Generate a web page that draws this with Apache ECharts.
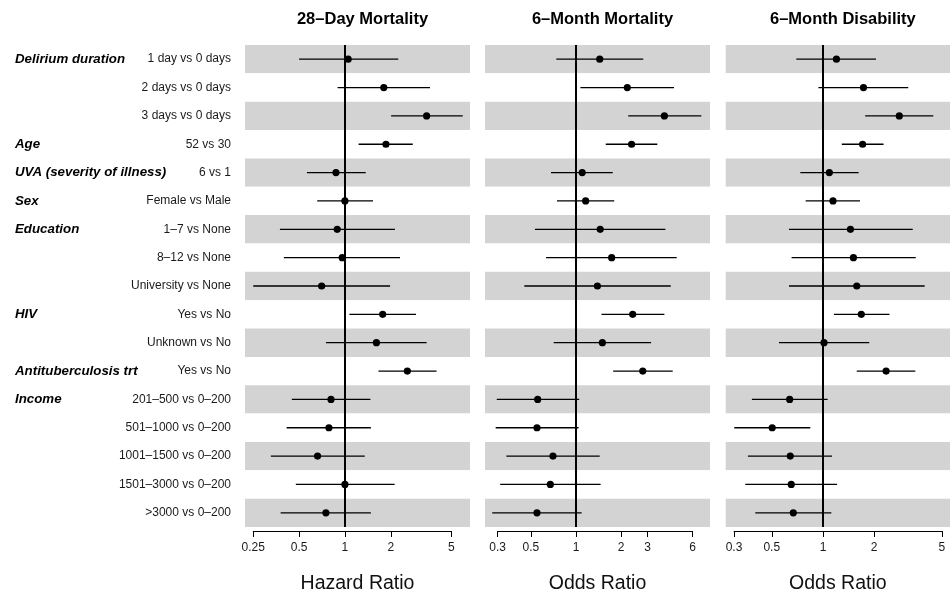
<!DOCTYPE html>
<html><head><meta charset="utf-8">
<script src="https://cdn.jsdelivr.net/npm/echarts@6/dist/echarts.min.js"></script>
<style>html,body{margin:0;padding:0;background:#fff}#c{width:951px;height:594px}</style>
</head><body><div id="c"></div>
<script>
// ---- data ----
const groupLabels = ['Delirium duration','','','Age','UVA (severity of illness)','Sex','Education','','','HIV','','Antituberculosis trt','Income','','','',''];
const rowLabels = ['1 day vs 0 days','2 days vs 0 days','3 days vs 0 days','52 vs 30','6 vs 1','Female vs Male','1\u20137 vs None','8\u201312 vs None','University vs None','Yes vs No','Unknown vs No','Yes vs No','201\u2013500 vs 0\u2013200','501\u20131000 vs 0\u2013200','1001\u20131500 vs 0\u2013200','1501\u20133000 vs 0\u2013200','>3000 vs 0\u2013200'];

const panelTitles = ['28\u2013Day Mortality','6\u2013Month Mortality','6\u2013Month Disability'];
const axisNames = ['Hazard Ratio','Odds Ratio','Odds Ratio'];

const ticks28 = [0.25,0.5,1,2,5];
const ticks6m = [0.3,0.5,1,2,3,6];
const ticks6d = [0.3,0.5,1,2,5];

const range28 = [0.2206, 6.63];
const range6m = [0.247, 7.84];
const range6d = [0.268, 5.58];

const est28 = [1.05,1.80,3.44,1.86,0.873,1.00,0.89,0.96,0.703,1.77,1.61,2.57,0.81,0.785,0.661,1.00,0.75];
const lo28  = [0.50,0.895,2.01,1.23,0.563,0.658,0.374,0.397,0.25,1.07,0.75,1.66,0.448,0.414,0.326,0.476,0.378];
const hi28  = [2.24,3.62,5.94,2.79,1.37,1.53,2.13,2.30,1.98,2.93,3.44,4.00,1.47,1.48,1.35,2.12,1.48];

const est6m = [1.44,2.20,3.89,2.35,1.10,1.16,1.45,1.73,1.39,2.39,1.50,2.79,0.555,0.549,0.702,0.674,0.549];
const lo6m  = [0.739,1.07,2.23,1.58,0.681,0.747,0.532,0.631,0.452,1.48,0.71,1.77,0.296,0.291,0.343,0.312,0.276];
const hi6m  = [2.81,4.51,6.86,3.49,1.76,1.80,3.95,4.70,4.29,3.89,3.17,4.42,1.05,1.04,1.44,1.46,1.09];

const est6d = [1.20,1.73,2.81,1.71,1.09,1.145,1.45,1.51,1.58,1.68,1.014,2.35,0.637,0.503,0.642,0.651,0.669];
const lo6d  = [0.697,0.94,1.77,1.29,0.736,0.791,0.631,0.654,0.631,1.16,0.551,1.58,0.382,0.301,0.362,0.349,0.40];
const hi6d  = [2.05,3.17,4.45,2.27,1.62,1.65,3.37,3.51,3.96,2.46,1.87,3.49,1.065,0.842,1.13,1.21,1.12];

// ---- build ----
const FONT = 'Liberation Sans, Arial, Helvetica, sans-serif';
const L2 = Math.log2;
const panels = [
  {est: est28, lo: lo28, hi: hi28, ticks: ticks28, range: range28, left: 245, width: 225},
  {est: est6m, lo: lo6m, hi: hi6m, ticks: ticks6m, range: range6m, left: 485, width: 225},
  {est: est6d, lo: lo6d, hi: hi6d, ticks: ticks6d, range: range6d, left: 725.7, width: 224.3}
];
const TOP = 45, HEIGHT = 482, AXIS_Y = 531;
const cats = rowLabels.map((_, i) => String(i));

const grid = [], xAxis = [], yAxis = [], series = [], title = [];

panels.forEach((p, k) => {
  const minL = L2(p.range[0]), maxL = L2(p.range[1]);
  grid.push({left: p.left, top: TOP, width: p.width, height: HEIGHT, outerBoundsMode: 'none', containLabel: false});
  xAxis.push({
    type: 'value', gridIndex: k, min: minL, max: maxL,
    axisLine: {show: false}, axisTick: {show: false}, axisLabel: {show: false}, splitLine: {show: false},
    name: axisNames[k], nameLocation: 'middle', nameGap: 47,
    nameTextStyle: {fontSize: 19.5, color: '#111', fontFamily: FONT}
  });
  yAxis.push({
    type: 'category', gridIndex: k, data: cats, inverse: true,
    axisLine: {show: false, onZero: false}, axisTick: {show: false},
    axisLabel: {show: k === 0, interval: 0, margin: 14, fontSize: 12, color: '#1a1a1a', fontFamily: FONT,
      formatter: (v, i) => rowLabels[i]},
    splitLine: {show: false},
    splitArea: {show: true, interval: 0, areaStyle: {color: ['#d3d3d3', '#ffffff']}}
  });
  title.push({
    text: panelTitles[k], left: p.left + p.width / 2, top: 6, textAlign: 'center',
    textStyle: {fontSize: 16.5, fontWeight: 'bold', color: '#000', fontFamily: FONT}
  });
  series.push({
    type: 'custom', xAxisIndex: k, yAxisIndex: k,
    data: p.est.map((e, i) => [i, L2(p.lo[i]), L2(e), L2(p.hi[i])]),
    encode: {x: [1, 2, 3], y: 0},
    renderItem: (params, api) => {
      const y = api.value(0);
      const a = api.coord([api.value(1), y]);
      const b = api.coord([api.value(3), y]);
      const c = api.coord([api.value(2), y]);
      return {type: 'group', children: [
        {type: 'line', shape: {x1: a[0], y1: a[1], x2: b[0], y2: b[1]}, style: {stroke: '#000', lineWidth: 1.3}},
        {type: 'circle', shape: {cx: c[0], cy: c[1], r: 3.6}, style: {fill: '#000'}}
      ]};
    },
    markLine: {
      silent: true, symbol: 'none', label: {show: false},
      lineStyle: {color: '#000', width: 2, type: 'solid'},
      data: [{xAxis: 0}]
    },
    z: 3
  });
});

// group labels axis on first panel
yAxis.push({
  type: 'category', gridIndex: 0, data: cats, inverse: true, position: 'left',
  axisLine: {show: false, onZero: false}, axisTick: {show: false}, splitLine: {show: false}, splitArea: {show: false},
  axisLabel: {show: true, interval: 0, align: 'left', margin: 230, fontSize: 13.3, fontWeight: 'bold', fontStyle: 'italic',
    color: '#000', fontFamily: FONT, formatter: (v, i) => groupLabels[i]}
});

// bottom tick axes spanning first..last tick
panels.forEach((p, k) => {
  const minL = L2(p.range[0]), maxL = L2(p.range[1]);
  const t0 = L2(p.ticks[0]), t1 = L2(p.ticks[p.ticks.length - 1]);
  const left = p.left + (t0 - minL) / (maxL - minL) * p.width;
  const width = (t1 - t0) / (maxL - minL) * p.width;
  const gi = grid.length;
  grid.push({left: left, top: AXIS_Y - 1, width: width, height: 1, outerBoundsMode: 'none', containLabel: false});
  const tv = p.ticks.map(L2);
  xAxis.push({
    type: 'value', gridIndex: gi, min: t0, max: t1, position: 'bottom',
    axisLine: {show: true, onZero: false, lineStyle: {color: '#000', width: 1}},
    axisTick: {show: true, length: 6, customValues: tv, lineStyle: {color: '#000', width: 1}},
    axisLabel: {show: true, customValues: tv, margin: 11, fontSize: 12, color: '#1a1a1a', fontFamily: FONT,
      showMinLabel: true, showMaxLabel: true,
      formatter: (v) => { const j = tv.findIndex(t => Math.abs(t - v) < 1e-6); return j >= 0 ? String(p.ticks[j]) : ''; }},
    splitLine: {show: false}
  });
  yAxis.push({type: 'value', gridIndex: gi, show: false});
});

const chart = echarts.init(document.getElementById('c'), null, {renderer: 'canvas'});
chart.setOption({
  animation: false,
  backgroundColor: '#fff',
  title, grid, xAxis, yAxis, series
});
</script>
</body></html>
